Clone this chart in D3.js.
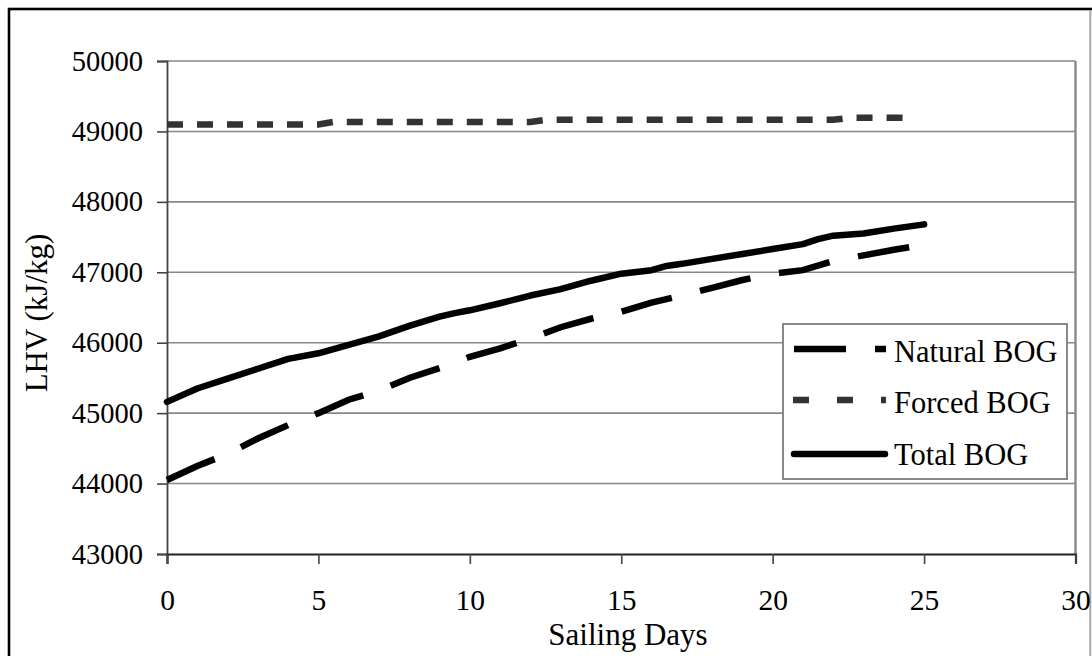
<!DOCTYPE html>
<html>
<head>
<meta charset="utf-8">
<script src="https://cdn.jsdelivr.net/npm/d3@7"></script>
<style>
  html, body { margin: 0; padding: 0; background: #fff; }
  svg { display: block; }
  text { font-family: "Liberation Serif", "Times New Roman", serif; fill: #000; }
</style>
</head>
<body>
<svg id="chart" width="1092" height="656"></svg>
<script>
// ---- data ----
const dayTicks = [0, 5, 10, 15, 20, 25, 30];
const lhvTicks = [43000, 44000, 45000, 46000, 47000, 48000, 49000, 50000];

const days = [0,1,2,3,4,5,6,7,8,9,10,11,12,13,14,15,16,17,18,19,20,21,22,23,24,25];
const naturalBOG = [44050,44250,44420,44640,44830,45000,45190,45320,45500,45640,45800,45920,46060,46220,46340,46440,46570,46670,46780,46890,46980,47030,47160,47240,47320,47390];

const totalDays = [0,1,2,3,4,5,6,7,8,9,9.5,10,11,12,13,14,15,16,16.5,17,18,19,20,21,21.5,22,23,24,25];
const totalBOG = [45160,45350,45490,45630,45770,45850,45970,46090,46240,46370,46420,46460,46560,46670,46760,46880,46980,47030,47090,47120,47190,47260,47330,47400,47470,47520,47550,47620,47680];

const forcedDays = [0,5,5.5,12,12.5,22,22.6,24.5];
const forcedBOG = [49100,49100,49135,49135,49165,49165,49195,49195];

const seriesNames = ["Natural BOG", "Forced BOG", "Total BOG"];

// ---- drawing ----
const FONT = '"Liberation Serif", "Times New Roman", serif';
const svg = d3.select("#chart");
const x = d3.scaleLinear().domain([0, 30]).range([167, 1075.5]);
const y = d3.scaleLinear().domain([43000, 50000]).range([554, 61]);

// outer frame
svg.append("rect").attr("x", 9).attr("y", 9).attr("width", 1200).attr("height", 800)
  .attr("fill", "none").attr("stroke", "#000").attr("stroke-width", 2.6);
svg.append("line").attr("x1", 1090.3).attr("x2", 1090.3).attr("y1", 10).attr("y2", 656)
  .attr("stroke", "#aaa").attr("stroke-width", 2);

// gridlines
svg.append("g").selectAll("line").data(lhvTicks.filter(d => d > 43000)).join("line")
  .attr("x1", x(0)).attr("x2", x(30))
  .attr("y1", d => y(d)).attr("y2", d => y(d))
  .attr("stroke", "#888").attr("stroke-width", 1.6);

// plot right border
svg.append("line").attr("x1", x(30)).attr("x2", x(30)).attr("y1", y(50000)).attr("y2", y(43000))
  .attr("stroke", "#888").attr("stroke-width", 2.4);

// axes
const yAxis = d3.axisLeft(y).tickValues(lhvTicks).tickSize(10).tickPadding(14).tickFormat(d3.format("d"));
const gy = svg.append("g").attr("transform", `translate(${x(0)},0)`).call(yAxis);
gy.select(".domain").attr("stroke", "#444").attr("stroke-width", 1.8);
gy.selectAll(".tick line").attr("stroke", "#444").attr("stroke-width", 1.6);
gy.selectAll(".tick text").style("font-size", "28.5px").style("font-family", FONT).attr("fill", "#000");

const xAxis = d3.axisBottom(x).tickValues(dayTicks).tickSize(10).tickPadding(25).tickFormat(d3.format("d"));
const gx = svg.append("g").attr("transform", `translate(0,${y(43000)})`).call(xAxis);
gx.select(".domain").attr("stroke", "#222").attr("stroke-width", 2.2);
gx.selectAll(".tick line").attr("stroke", "#444").attr("stroke-width", 1.6);
gx.selectAll(".tick text").style("font-size", "29.5px").style("font-family", FONT).attr("fill", "#000");

// axis titles
svg.append("text").attr("x", 628).attr("y", 645).attr("text-anchor", "middle")
  .style("font-size", "31px").style("font-family", FONT).text("Sailing Days");
svg.append("text").attr("transform", "translate(47,313) rotate(-90)").attr("text-anchor", "middle")
  .style("font-size", "31px").style("font-family", FONT).text("LHV (kJ/kg)");

// lines
const mk = (xs) => d3.line().x((d, i) => x(xs[i])).y(d => y(d));

svg.append("path").datum(forcedBOG).attr("d", mk(forcedDays))
  .attr("fill", "none").attr("stroke", "#333").attr("stroke-width", 6.5)
  .attr("stroke-dasharray", "16,14");

svg.append("path").datum(naturalBOG).attr("d", mk(days))
  .attr("fill", "none").attr("stroke", "#000").attr("stroke-width", 6.5)
  .attr("stroke-dasharray", "52,29");

svg.append("path").datum(totalBOG).attr("d", mk(totalDays))
  .attr("fill", "none").attr("stroke", "#000").attr("stroke-width", 6.5)
  .attr("stroke-linejoin", "round").attr("stroke-linecap", "round");

// legend
const lg = svg.append("g");
lg.append("rect").attr("x", 783).attr("y", 324).attr("width", 284).attr("height", 155)
  .attr("fill", "#fff").attr("stroke", "#888").attr("stroke-width", 2);
const legendStyles = [
  { y: 349, dash: "52,29", color: "#000", cap: "butt", x1: 794, x2: 886 },
  { y: 400, dash: "16,28", color: "#333", cap: "butt", x1: 793, x2: 886 },
  { y: 454, dash: null, color: "#000", cap: "round", x1: 794, x2: 885 }
];
const textY = [362, 413, 465];
seriesNames.forEach((name, i) => {
  const s = legendStyles[i];
  const ln = lg.append("line").attr("x1", s.x1).attr("x2", s.x2).attr("y1", s.y).attr("y2", s.y)
    .attr("stroke", s.color).attr("stroke-width", 6.5).attr("stroke-linecap", s.cap);
  if (s.dash) ln.attr("stroke-dasharray", s.dash);
  lg.append("text").attr("x", 894).attr("y", textY[i])
    .style("font-size", "30.5px").style("font-family", FONT).text(name);
});
</script>
</body>
</html>
